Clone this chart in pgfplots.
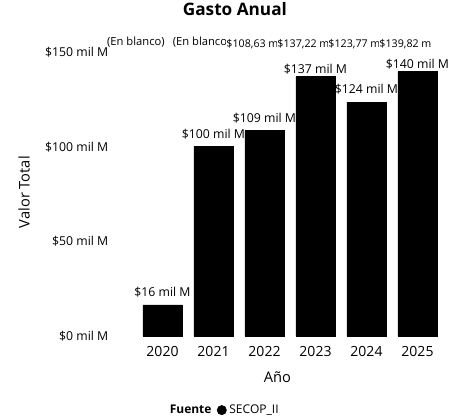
\documentclass[border=0pt]{standalone}
\usepackage{fontspec}
\setmainfont{Open Sans}
\usepackage{pgfplots}
\pgfplotsset{compat=1.18}
\begin{document}
\begin{tikzpicture}
\useasboundingbox (-102.75pt,-60.75pt) rectangle (246pt,252pt);
\begin{axis}[
  at={(0pt,0pt)}, anchor=south west,
  scale only axis, width=229.5pt, height=219.75pt,
  xmin=-0.5, xmax=5.5, ymin=0, ymax=155,
  clip=false,
  axis line style={draw=none},
  major tick length=0pt,
  xtick={0,1,2,3,4,5},
  xticklabels={2020,2021,2022,2023,2024,2025},
  ytick={0,50,100,150},
  yticklabels={\$0 mil M,\$50 mil M,\$100 mil M,\$150 mil M},
  /pgf/number format/assume math mode=true,
  yticklabel style={font=\fontsize{9.2}{10}\selectfont, xshift=-18pt},
  xticklabel style={font=\fontsize{10.5}{12}\selectfont, yshift=-4.5pt},
  title={Gasto Anual},
  title style={at={(axis description cs:0.320,1.089)}, anchor=center, font=\bfseries\fontsize{12.9}{15}\selectfont},
  xlabel={Año},
  xlabel style={at={(axis description cs:0.459,-0.140)}, anchor=center, font=\fontsize{11}{13}\selectfont},
  ylabel={Valor Total},
  ylabel style={at={(axis description cs:-0.369,0.491)}, anchor=center, font=\fontsize{11}{13}\selectfont},
  legend style={at={(axis description cs:0.285,-0.253)}, anchor=center, draw=none, fill=none,
    font=\fontsize{9}{11}\selectfont, legend columns=2, /tikz/every even column/.append style={column sep=2pt}},
]
\addlegendimage{empty legend}
\addlegendentry{\textbf{Fuente}}
\addplot[ybar, bar width=29.5pt, fill=black, draw=black,
  legend image code/.code={\fill[black] (0.2em,0pt) circle (3.5pt);}]
  coordinates {
    (0,16.4)
    (1,100.3)
    (2,108.63)
    (3,137.22)
    (4,123.77)
    (5,139.82)
  };
\addlegendentry{SECOP\_II}
% value labels above bars
\addplot[forget plot, draw=none, mark=none,
  nodes near coords, point meta=explicit symbolic,
  every node near coord/.style={anchor=south, inner sep=1pt, yshift=4.5pt, font=\fontsize{9.2}{10}\selectfont}]
  coordinates {
    (0,16.4)   [\$16 mil M]
    (1,100.3)  [\$100 mil M]
    (2,108.63) [\$109 mil M]
    (4,123.77) [\$124 mil M]
  };
\addplot[forget plot, draw=none, mark=none,
  nodes near coords, point meta=explicit symbolic,
  every node near coord/.style={anchor=south, inner sep=1pt, yshift=0.5pt, font=\fontsize{9.2}{10}\selectfont}]
  coordinates {
    (3,137.22) [\$137 mil M]
    (5,139.82) [\$140 mil M]
  };
% top row of labels
\addplot[forget plot, draw=none, mark=none,
  nodes near coords, point meta=explicit symbolic,
  every node near coord/.style={anchor=west, fill=white, inner sep=0.3pt, xshift=-42pt, font=\fontsize{8.4}{10}\selectfont}]
  coordinates {
    (0,155.5) [(En blanco)]
  };
\addplot[forget plot, draw=none, mark=none,
  nodes near coords, point meta=explicit symbolic,
  every node near coord/.style={anchor=west, fill=white, inner sep=0.3pt, xshift=-31pt, font=\fontsize{8.4}{10}\selectfont}]
  coordinates {
    (1,155.5) [(En blanco]
  };
\addplot[forget plot, draw=none, mark=none,
  nodes near coords, point meta=explicit symbolic,
  every node near coord/.style={anchor=west, fill=white, inner sep=0.3pt, xshift=-29pt, font=\fontsize{8}{9}\selectfont}]
  coordinates {
    (2,154.2) [\$108,63 m.]
    (3,154.2) [\$137,22 m]
    (4,154.2) [\$123,77 m]
    (5,154.2) [\$139,82 m]
  };
\end{axis}
\end{tikzpicture}
\end{document}
